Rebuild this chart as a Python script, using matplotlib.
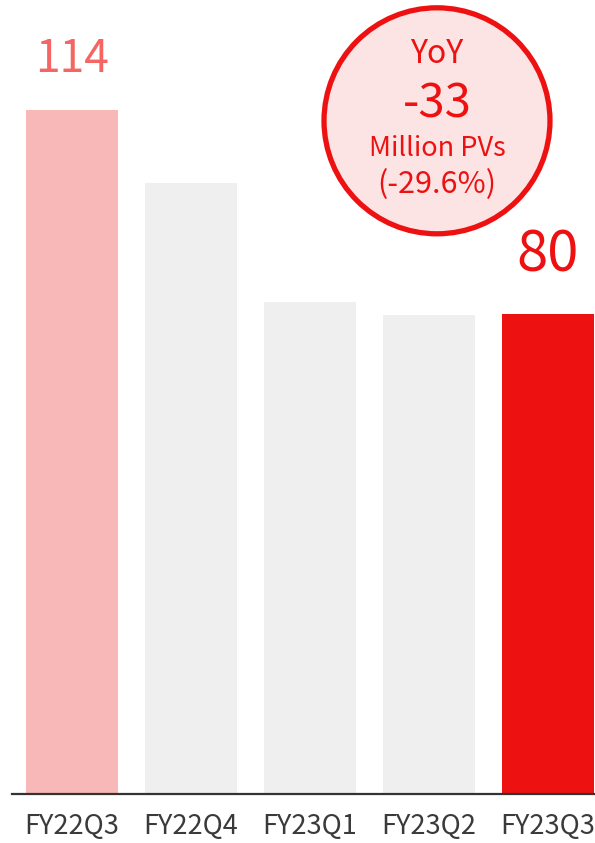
import matplotlib
matplotlib.use('Agg')
import matplotlib.pyplot as plt
from matplotlib.patches import Ellipse

plt.rcParams['font.family'] = ['Noto Sans CJK JP', 'DejaVu Sans']

quarters = ['FY22Q3', 'FY22Q4', 'FY23Q1', 'FY23Q2', 'FY23Q3']
pvs = [114, 101.8, 82, 79.8, 80]
bar_colors = ['#F9B8B8', '#EFEFEF', '#EFEFEF', '#EFEFEF', '#EE1111']
yoy_change = '-33'
yoy_pct = '(-29.6%)'

fig = plt.figure(figsize=(5.95, 8.43), dpi=100)
ax = fig.add_axes([12 / 595, 49 / 843, 583 / 595, 780 / 843])

x = list(range(len(quarters)))
ax.bar(x, pvs, width=0.773, color=bar_colors)
ax.set_xlim(-0.505, 4.395)
ax.set_ylim(0, 130)

for s in ['top', 'right', 'left']:
    ax.spines[s].set_visible(False)
ax.spines['bottom'].set_color('#333333')
ax.spines['bottom'].set_linewidth(1.6)
ax.set_yticks([])
ax.set_xticks(x)
ax.set_xticklabels(quarters, fontsize=19.5, color='#3a3a3a')
ax.tick_params(axis='x', length=0, pad=14)

# value labels on first and last bar
ax.text(0, 120.3, f'{pvs[0]:.0f}', ha='center', va='baseline', fontsize=32, color='#F46563')
ax.text(4, 87, f'{pvs[-1]:.0f}', ha='center', va='baseline', fontsize=40.5, color='#EE1111')

# YoY bubble
cx, cy = 3.067, 112.2
ax.add_patch(Ellipse((cx, cy), 2 * 113 / 119, 2 * 113 / 6, facecolor='#FCE4E4',
                     edgecolor='#EE1111', linewidth=3.8, clip_on=False))
ax.text(cx, 121.8, 'YoY', ha='center', va='baseline', fontsize=23, color='#EE1111')
ax.text(cx, 112.7, yoy_change, ha='center', va='baseline', fontsize=34, color='#EE1111')
ax.text(cx, 106.3, 'Million PVs', ha='center', va='baseline', fontsize=19.5, color='#EE1111')
ax.text(cx, 100.2, yoy_pct, ha='center', va='baseline', fontsize=22, color='#EE1111')

fig.savefig('out.png', dpi=100)
